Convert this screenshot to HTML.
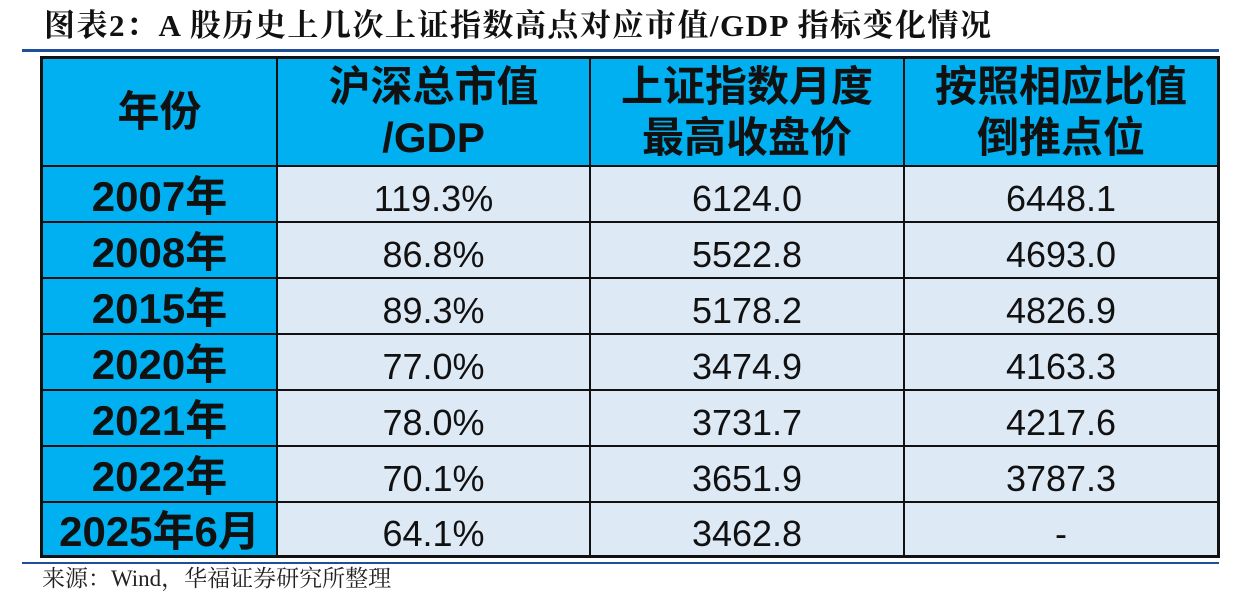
<!DOCTYPE html>
<html><head><meta charset="utf-8"><style>
body{margin:0;width:1246px;height:597px;background:#fff;position:relative;overflow:hidden;font-family:"Liberation Sans","Noto Sans CJK SC",sans-serif}
.title{position:absolute;left:44px;top:6px;font-family:"Liberation Serif","Noto Serif CJK SC",serif;font-weight:bold;font-size:31px;letter-spacing:1.5px;color:#111;white-space:nowrap;line-height:40px}
.rule{position:absolute;left:22px;width:1197px;height:3px;background:#1f4e9a}
table{position:absolute;left:40px;top:56px;border-collapse:collapse;border:3px solid #111;table-layout:fixed}
td{border:2px solid #111;text-align:center;padding:0;color:#111;overflow:hidden}
td.h{background:#00b0f0;font-weight:bold;font-size:42px;line-height:51px}
td.y{background:#00b0f0;font-weight:bold;font-size:42px;line-height:44px;padding-top:6px}
td.d{background:#dde9f5;font-size:36px;font-weight:normal;line-height:40px;padding-top:10px}
.src{position:absolute;left:42px;top:565px;font-family:"Liberation Serif","Noto Serif CJK SC",serif;font-size:23px;line-height:28px;color:#222}
</style></head><body>
<div class="title">图表2：A 股历史上几次上证指数高点对应市值/GDP 指标变化情况</div>
<div class="rule" style="top:49px"></div>
<table>
<tr style="height:108px">
<td class="h" style="width:233px">年份</td>
<td class="h" style="width:311px">沪深总市值<br>/GDP</td>
<td class="h" style="width:312px">上证指数月度<br>最高收盘价</td>
<td class="h" style="width:312px">按照相应比值<br>倒推点位</td>
</tr>
<tr style="height:56px"><td class="y">2007年</td><td class="d">119.3%</td><td class="d">6124.0</td><td class="d">6448.1</td></tr>
<tr style="height:56px"><td class="y">2008年</td><td class="d">86.8%</td><td class="d">5522.8</td><td class="d">4693.0</td></tr>
<tr style="height:56px"><td class="y">2015年</td><td class="d">89.3%</td><td class="d">5178.2</td><td class="d">4826.9</td></tr>
<tr style="height:56px"><td class="y">2020年</td><td class="d">77.0%</td><td class="d">3474.9</td><td class="d">4163.3</td></tr>
<tr style="height:56px"><td class="y">2021年</td><td class="d">78.0%</td><td class="d">3731.7</td><td class="d">4217.6</td></tr>
<tr style="height:56px"><td class="y">2022年</td><td class="d">70.1%</td><td class="d">3651.9</td><td class="d">3787.3</td></tr>
<tr style="height:55px"><td class="y">2025年6月</td><td class="d">64.1%</td><td class="d">3462.8</td><td class="d">-</td></tr>
</table>
<div class="rule" style="top:562px;height:2px"></div>
<div class="src">来源：Wind，华福证券研究所整理</div>
</body></html>
